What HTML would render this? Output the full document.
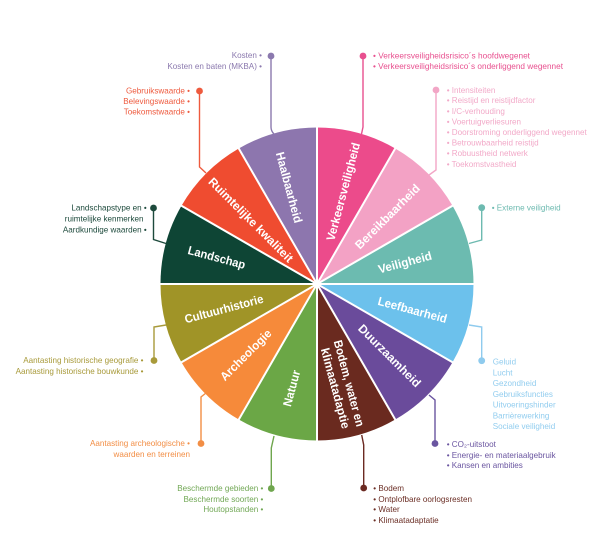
<!DOCTYPE html>
<html><head><meta charset="utf-8">
<style>
html,body{margin:0;padding:0;background:#ffffff;}
svg{display:block;}
.lbl{font-family:"Liberation Sans",sans-serif;font-weight:bold;font-size:12px;fill:#ffffff;}
.li{font-family:"Liberation Sans",sans-serif;font-size:8.1px;}
</style></head>
<body>
<svg width="605" height="557" viewBox="0 0 605 557" xmlns="http://www.w3.org/2000/svg">
<rect width="605" height="557" fill="#ffffff"/>
<!-- wedges -->
<g>
<path d="M317,284 L317,127.5 A156.5,156.5 0 0 1 395.25,148.47 Z" fill="#EC4B8B"/>
<path d="M317,284 L395.25,148.47 A156.5,156.5 0 0 1 452.53,205.75 Z" fill="#F3A2C5"/>
<path d="M317,284 L452.53,205.75 A156.5,156.5 0 0 1 473.5,284 Z" fill="#6CBBB0"/>
<path d="M317,284 L473.5,284 A156.5,156.5 0 0 1 452.53,362.25 Z" fill="#6CC1EC"/>
<path d="M317,284 L452.53,362.25 A156.5,156.5 0 0 1 395.25,419.53 Z" fill="#6A4B9B"/>
<path d="M317,284 L395.25,419.53 A156.5,156.5 0 0 1 317,440.5 Z" fill="#6A2A1F"/>
<path d="M317,284 L317,440.5 A156.5,156.5 0 0 1 238.75,419.53 Z" fill="#6BA746"/>
<path d="M317,284 L238.75,419.53 A156.5,156.5 0 0 1 181.47,362.25 Z" fill="#F68A3A"/>
<path d="M317,284 L181.47,362.25 A156.5,156.5 0 0 1 160.5,284 Z" fill="#A09427"/>
<path d="M317,284 L160.5,284 A156.5,156.5 0 0 1 181.47,205.75 Z" fill="#0E4535"/>
<path d="M317,284 L181.47,205.75 A156.5,156.5 0 0 1 238.75,148.47 Z" fill="#EF4C30"/>
<path d="M317,284 L238.75,148.47 A156.5,156.5 0 0 1 317,127.5 Z" fill="#8D76AE"/>
</g>
<!-- separators -->
<g stroke="#ffffff" stroke-width="2">
<line x1="317" y1="284" x2="317" y2="125"/>
<line x1="317" y1="284" x2="396.5" y2="146.3"/>
<line x1="317" y1="284" x2="454.7" y2="204.5"/>
<line x1="317" y1="284" x2="476" y2="284"/>
<line x1="317" y1="284" x2="454.7" y2="363.5"/>
<line x1="317" y1="284" x2="396.5" y2="421.7"/>
<line x1="317" y1="284" x2="317" y2="443"/>
<line x1="317" y1="284" x2="237.5" y2="421.7"/>
<line x1="317" y1="284" x2="179.3" y2="363.5"/>
<line x1="317" y1="284" x2="158" y2="284"/>
<line x1="317" y1="284" x2="179.3" y2="204.5"/>
<line x1="317" y1="284" x2="237.5" y2="146.3"/>
</g>
<!-- wedge labels -->
<g class="lbl" text-anchor="middle">
<text transform="translate(343.3,191.7) rotate(-75)" y="4" textLength="101" lengthAdjust="spacingAndGlyphs">Verkeersveiligheid</text>
<text transform="translate(387.5,216.7) rotate(-45)" y="4" textLength="86" lengthAdjust="spacingAndGlyphs">Bereikbaarheid</text>
<text transform="translate(405,262.5) rotate(-15)" y="4" textLength="55" lengthAdjust="spacingAndGlyphs">Veiligheid</text>
<text transform="translate(412.5,310) rotate(15)" y="4" textLength="71" lengthAdjust="spacingAndGlyphs">Leefbaarheid</text>
<text transform="translate(389.5,355.8) rotate(45)" y="4" textLength="83" lengthAdjust="spacingAndGlyphs">Duurzaamheid</text>
<text transform="translate(349,383.3) rotate(75)" y="4" textLength="89" lengthAdjust="spacingAndGlyphs">Bodem, water en</text>
<text transform="translate(335.3,388.3) rotate(75)" y="4" textLength="83" lengthAdjust="spacingAndGlyphs">klimaatadaptie</text>
<text transform="translate(291.7,388.3) rotate(-75)" y="4" textLength="37" lengthAdjust="spacingAndGlyphs">Natuur</text>
<text transform="translate(245.8,355) rotate(-45)" y="4" textLength="67" lengthAdjust="spacingAndGlyphs">Archeologie</text>
<text transform="translate(224,309) rotate(-15)" y="4" textLength="81" lengthAdjust="spacingAndGlyphs">Cultuurhistorie</text>
<text transform="translate(216.7,257.5) rotate(15)" y="4" textLength="59" lengthAdjust="spacingAndGlyphs">Landschap</text>
<text transform="translate(250.8,220) rotate(45)" y="4" textLength="114" lengthAdjust="spacingAndGlyphs">Ruimtelijke kwaliteit</text>
<text transform="translate(289,187.5) rotate(75)" y="4" textLength="73" lengthAdjust="spacingAndGlyphs">Haalbaarheid</text>
</g>
<!-- connectors -->
<g fill="none" stroke-width="1.4">
<path d="M271,56 L271,127 Q271,131 274,134" stroke="#8B79AE"/>
<path d="M363,56 L363,127 L361.5,134" stroke="#E8508F"/>
<path d="M436,90 L436,170 L429,175" stroke="#F2A6C6"/>
<path d="M199.5,91 L199.5,167 L206,173" stroke="#EE5A3E"/>
<path d="M153.5,208 L153.5,239.5 L166,243.5" stroke="#1D4A3C"/>
<path d="M166,325 L154,327 L154,360.5" stroke="#A89A3A"/>
<path d="M206,393 L201,397 L201,443.5" stroke="#F28E45"/>
<path d="M271.3,488.5 L271.3,448 L274,436" stroke="#6FA64E"/>
<path d="M363.7,488 L363.7,445 L361.7,435" stroke="#6B2A22"/>
<path d="M429,395 L435,400 L435,443.5" stroke="#6A55A0"/>
<path d="M469,325 L481.7,327 L481.7,360.7" stroke="#8FCBEE"/>
<path d="M481.7,207.7 L481.7,240 L469,243.5" stroke="#6DBAB0"/>
</g>
<g>
<circle cx="271" cy="56" r="3.4" fill="#8B79AE"/>
<circle cx="363" cy="56" r="3.4" fill="#E8508F"/>
<circle cx="436" cy="90" r="3.4" fill="#F2A6C6"/>
<circle cx="199.5" cy="91" r="3.4" fill="#EE5A3E"/>
<circle cx="153.5" cy="208" r="3.4" fill="#1D4A3C"/>
<circle cx="154" cy="360.5" r="3.4" fill="#A89A3A"/>
<circle cx="201" cy="443.5" r="3.4" fill="#F28E45"/>
<circle cx="271.3" cy="488.5" r="3.4" fill="#6FA64E"/>
<circle cx="363.7" cy="488" r="3.4" fill="#6B2A22"/>
<circle cx="435" cy="443.5" r="3.4" fill="#6A55A0"/>
<circle cx="481.7" cy="360.7" r="3.4" fill="#8FCBEE"/>
<circle cx="481.7" cy="207.7" r="3.4" fill="#6DBAB0"/>
</g>
<!-- lists -->
<g class="li" text-anchor="end" fill="#8B79AE">
<text x="262" y="58">Kosten •</text>
<text x="262" y="68.8">Kosten en baten (MKBA) •</text>
</g>
<g class="li" fill="#E8508F">
<text x="373" y="58.5" textLength="157" lengthAdjust="spacingAndGlyphs">• Verkeersveiligheidsrisico´s hoofdwegenet</text>
<text x="373" y="69" textLength="190" lengthAdjust="spacingAndGlyphs">• Verkeersveiligheidsrisico´s onderliggend wegennet</text>
</g>
<g class="li" fill="#F2A9C8">
<text x="446.7" y="92.8">• Intensiteiten</text>
<text x="446.7" y="103.1">• Reistijd en reistijdfactor</text>
<text x="446.7" y="113.8">• I/C-verhouding</text>
<text x="446.7" y="124.3">• Voertuigverliesuren</text>
<text x="446.7" y="135">• Doorstroming onderliggend wegennet</text>
<text x="446.7" y="145.5">• Betrouwbaarheid reistijd</text>
<text x="446.7" y="156.1">• Robuustheid netwerk</text>
<text x="446.7" y="166.8">• Toekomstvastheid</text>
</g>
<g class="li" text-anchor="end" fill="#EE5A3E">
<text x="190" y="93.5">Gebruikswaarde •</text>
<text x="190" y="104">Belevingswaarde •</text>
<text x="190" y="114.5">Toekomstwaarde •</text>
</g>
<g class="li" text-anchor="end" fill="#1D4A3C">
<text x="146.7" y="210.5">Landschapstype en •</text>
<text x="143.5" y="221.5">ruimtelijke kenmerken</text>
<text x="146.7" y="232.5">Aardkundige waarden •</text>
</g>
<g class="li" fill="#6DBAB0">
<text x="491.7" y="210.5">• Externe veiligheid</text>
</g>
<g class="li" text-anchor="end" fill="#A89A3A">
<text x="143.5" y="363">Aantasting historische geografie •</text>
<text x="143.5" y="373.8">Aantasting historische bouwkunde •</text>
</g>
<g class="li" fill="#92CDEF">
<text x="492.7" y="364.5">Geluid</text>
<text x="492.7" y="375.5">Lucht</text>
<text x="492.7" y="386.1">Gezondheid</text>
<text x="492.7" y="396.8">Gebruiksfuncties</text>
<text x="492.7" y="407.5">Uitvoeringshinder</text>
<text x="492.7" y="418.5">Barrièrewerking</text>
<text x="492.7" y="428.8">Sociale veiligheid</text>
</g>
<g class="li" text-anchor="end" fill="#F28E45">
<text x="190" y="446">Aantasting archeologische •</text>
<text x="190" y="456.8">waarden en terreinen</text>
</g>
<g class="li" fill="#6A55A0">
<text x="446.7" y="447">• CO₂-uitstoot</text>
<text x="446.7" y="457.8">• Energie- en materiaalgebruik</text>
<text x="446.7" y="468">• Kansen en ambities</text>
</g>
<g class="li" text-anchor="end" fill="#72A856">
<text x="263.3" y="491">Beschermde gebieden •</text>
<text x="263.3" y="501.8">Beschermde soorten •</text>
<text x="263.3" y="512">Houtopstanden •</text>
</g>
<g class="li" fill="#6B2E25">
<text x="373.3" y="490.8">• Bodem</text>
<text x="373.3" y="501.8">• Ontplofbare oorlogsresten</text>
<text x="373.3" y="512">• Water</text>
<text x="373.3" y="522.8">• Klimaatadaptatie</text>
</g>
</svg>
</body></html>
